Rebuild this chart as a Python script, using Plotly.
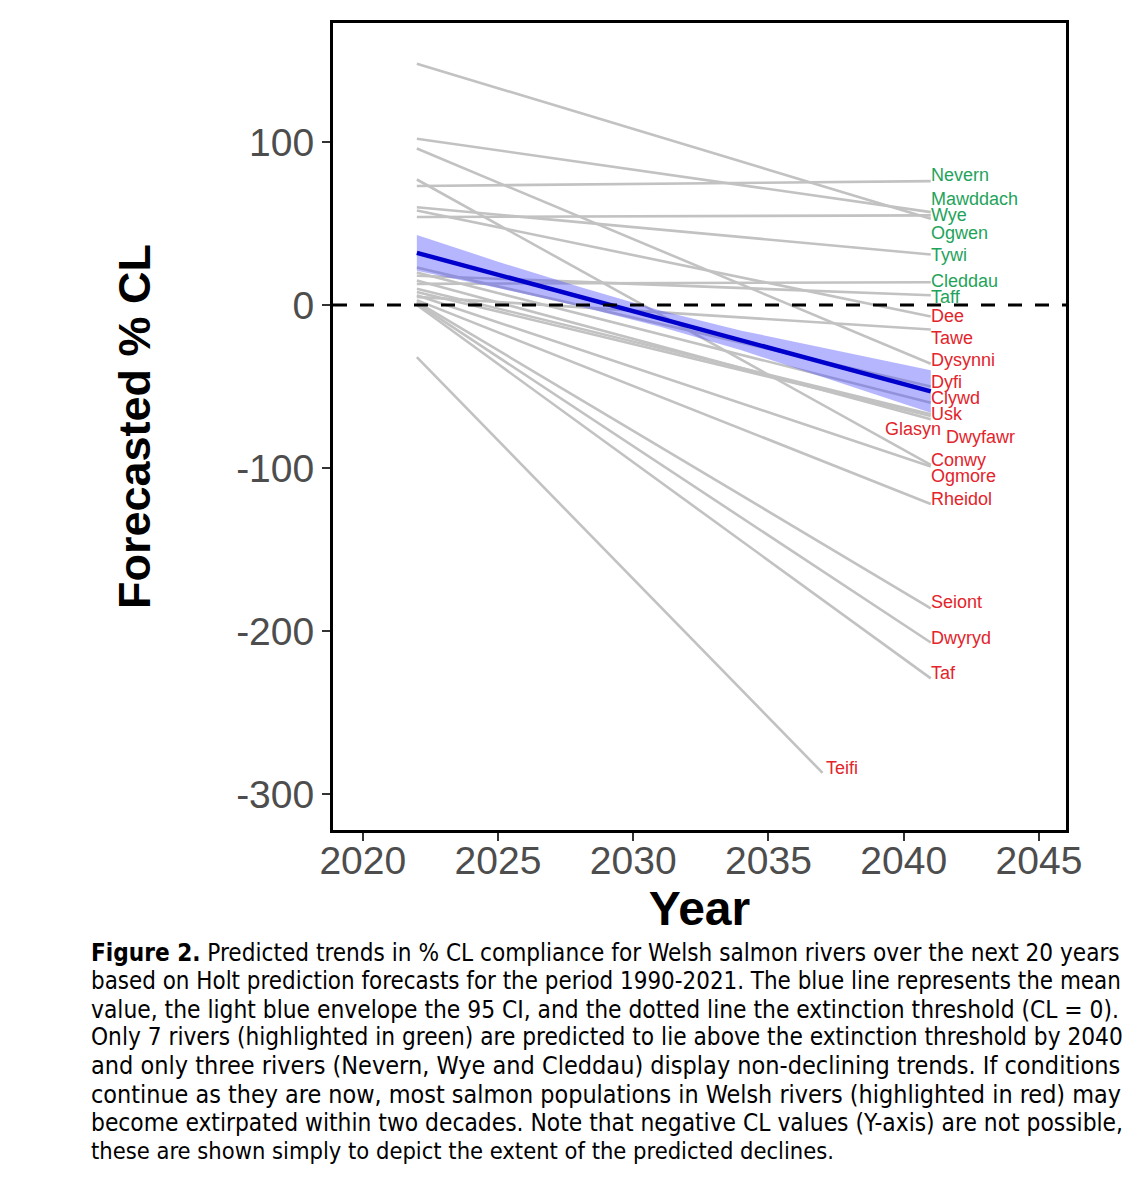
import plotly.graph_objects as go

# ---------------- data ----------------
rivers = ["Nevern", "Mawddach", "Wye", "Ogwen", "Tywi", "Cleddau", "Taff",
          "Dee", "Tawe", "Dysynni", "Dyfi", "Clywd", "Usk", "Glasyn", "Dwyfawr",
          "Conwy", "Ogmore", "Rheidol", "Seiont", "Dwyryd", "Taf", "Teifi"]
status = ["above"] * 7 + ["below"] * 15
start_year = [2022] * 22
end_year = [2041] * 21 + [2037]
start_val = [73, 102, 54, 148, 60, 13, 18,
             58, 5, 96, 23, 20, 15, 10, 8,
             77, 6, 3, 2, 1, 0, -32]
end_val = [76, 57, 55, 53, 31, 14, 6,
           -7, -15, -36, -50, -60, -70, -67, -68,
           -98, -99, -122, -186, -207, -229, -287]

mean_years = [2022, 2025, 2028, 2031, 2034, 2037, 2041]
mean_val = [32, 18.6, 5.2, -8.3, -21.7, -35.1, -53]
ci_low = [21, 10.5, -0.8, -13.3, -27.7, -44.1, -66]
ci_high = [43, 26.6, 11.2, -3.3, -15.7, -26.1, -40]

y_ticks = [100, 0, -100, -200, -300]
y_ticklabels = ["100", "0", "-100", "-200", "-300"]
x_ticks = [2020, 2025, 2030, 2035, 2040, 2045]

caption_lines = [
    "<b>Figure 2.</b> Predicted trends in % CL compliance for Welsh salmon rivers over the next 20 years",
    "based on Holt prediction forecasts for the period 1990-2021. The blue line represents the mean",
    "value, the light blue envelope the 95 CI, and the dotted line the extinction threshold (CL = 0).",
    "Only 7 rivers (highlighted in green) are predicted to lie above the extinction threshold by 2040",
    "and only three rivers (Nevern, Wye and Cleddau) display non-declining trends. If conditions",
    "continue as they are now, most salmon populations in Welsh rivers (highlighted in red) may",
    "become extirpated within two decades. Note that negative CL values (Y-axis) are not possible,",
    "these are shown simply to depict the extent of the predicted declines.",
]

# ---------------- style / layout helpers ----------------
colors = {"above": "#1FA35B", "below": "#E3242B"}
# label placement (repelled positions, like ggrepel)
label_y = [80, 65, 55, 44, 31, 15, 5,
           -7, -20, -34, -47, -57, -67, -76, -81,
           -95, -105, -119, -182, -204, -226, -284]
label_x = [2040.95] * 13 + [2041.45, 2041.5] + [2040.95] * 6 + [2037.05]
label_anchor = ["left"] * 13 + ["right"] + ["left"] * 8
caption_sizes = [24.1, 23.9, 24.3, 24.2, 25.0, 24.9, 24.3, 23.5]

L, T, PW, PH = 325, 12, 733, 810  # plot area in figure pixels


def px_x(x):
    return (x - L) / PW


def px_y(y):
    return (T + PH - y) / PH


fig = go.Figure()

for i, r in enumerate(rivers):
    fig.add_trace(go.Scatter(
        x=[start_year[i], end_year[i]], y=[start_val[i], end_val[i]],
        mode="lines", line=dict(color="#C2C2C2", width=2.6),
        showlegend=False, hoverinfo="skip"))

fig.add_trace(go.Scatter(x=mean_years, y=ci_high, mode="lines",
                         line=dict(width=0), showlegend=False, hoverinfo="skip"))
fig.add_trace(go.Scatter(x=mean_years, y=ci_low, mode="lines",
                         line=dict(width=0), fill="tonexty",
                         fillcolor="rgba(80,80,255,0.42)",
                         showlegend=False, hoverinfo="skip"))
fig.add_trace(go.Scatter(x=mean_years, y=mean_val, mode="lines",
                         line=dict(color="#0000CC", width=4.5),
                         showlegend=False, hoverinfo="skip"))

# extinction threshold
fig.add_shape(type="line", xref="paper", x0=0, x1=1, yref="y", y0=0, y1=0,
              line=dict(color="black", width=3, dash="14px,13px"))

for i, r in enumerate(rivers):
    fig.add_annotation(x=label_x[i], y=label_y[i], text=r, showarrow=False,
                       xanchor=label_anchor[i], yanchor="middle",
                       font=dict(family="Liberation Sans, Arial", size=18,
                                 color=colors[status[i]]))

for k, line in enumerate(caption_lines):
    fig.add_annotation(xref="paper", yref="paper", x=px_x(81), y=px_y(945 + 28.4 * k),
                       xanchor="left", yanchor="middle", align="left", showarrow=False,
                       text=line,
                       font=dict(family="Liberation Sans Narrow, Arial Narrow, DejaVu Sans Condensed, Liberation Sans",
                                 size=caption_sizes[k], color="black"))

axis_common = dict(showline=True, linecolor="black", linewidth=3, mirror=True,
                   showgrid=False, zeroline=False, ticks="outside", ticklen=8,
                   tickwidth=2, tickcolor="#333333",
                   tickfont=dict(family="Liberation Sans, Arial", size=39, color="#4D4D4D"))

fig.update_layout(
    width=1146, height=1200,
    margin=dict(l=L, r=1146 - L - PW, t=T, b=1200 - T - PH),
    plot_bgcolor="white", paper_bgcolor="white",
    xaxis=dict(range=[2018.9, 2046.0], tickvals=x_ticks, ticklabelstandoff=-14,
               title=dict(text="<b>Year</b>", standoff=0,
                          font=dict(family="Liberation Sans, Arial", size=48, color="black")),
               **axis_common),
    yaxis=dict(range=[-322, 173], tickvals=y_ticks, ticktext=y_ticklabels,
               title=dict(text="<b>Forecasted % CL</b>", standoff=72,
                          font=dict(family="Liberation Sans, Arial", size=45, color="black")),
               **axis_common),
)

fig.write_html("out.html")
